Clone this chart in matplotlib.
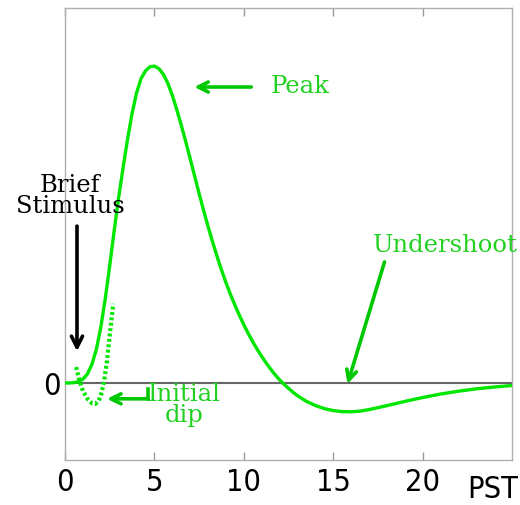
import matplotlib
matplotlib.use("Agg")
import matplotlib.pyplot as plt
from matplotlib import font_manager
from matplotlib.font_manager import FontProperties

# hemodynamic response (peak scaled to 1)
t_hrf = [0, 0.25, 0.5, 0.75, 1.0, 1.25, 1.5, 1.75, 2.0, 2.25, 2.5, 2.75,
         3.0, 3.25, 3.5, 3.75, 4.0, 4.25, 4.5, 4.75, 5.0, 5.25, 5.5, 5.75,
         6.0, 6.25, 6.5, 6.75, 7.0, 7.25, 7.5, 7.75, 8.0, 8.25, 8.5, 8.75,
         9.0, 9.25, 9.5, 9.75, 10.0, 10.25, 10.5, 10.75, 11.0, 11.25, 11.5,
         11.75, 12.0, 12.25, 12.5, 12.75, 13.0, 13.5, 14.0, 14.5, 15.0, 15.5,
         16.0, 16.5, 17.0, 17.5, 18.0, 18.5, 19.0, 19.5, 20.0, 21.0, 22.0,
         23.0, 24.0, 25.0]
hrf = [0, 0, 0.001, 0.004, 0.012, 0.028, 0.058, 0.105, 0.175, 0.265, 0.37,
       0.48, 0.585, 0.68, 0.77, 0.85, 0.915, 0.96, 0.985, 0.998, 1.0, 0.992,
       0.974, 0.946, 0.908, 0.863, 0.814, 0.762, 0.708, 0.653, 0.598, 0.545,
       0.494, 0.446, 0.400, 0.357, 0.317, 0.280, 0.246, 0.214, 0.184, 0.156,
       0.130, 0.106, 0.084, 0.063, 0.044, 0.026, 0.010, -0.004, -0.017,
       -0.029, -0.040, -0.058, -0.071, -0.081, -0.087, -0.0905, -0.091,
       -0.089, -0.084, -0.078, -0.0715, -0.065, -0.0583, -0.052, -0.046,
       -0.035, -0.026, -0.0185, -0.0128, -0.008]

# dotted initial dip
t_dip = [0.62, 0.8, 1.0, 1.25, 1.5, 1.7, 1.9, 2.05, 2.2, 2.35, 2.5, 2.7]
dip = [0.05, 0.01, -0.025, -0.05, -0.064, -0.066, -0.055, -0.03, 0.01, 0.07,
       0.15, 0.25]

xticks = [0, 5, 10, 15, 20]

# narrow sans for the axis numbers, if there is one
tick_fp = None
for f in font_manager.fontManager.ttflist:
    if f.name == "Liberation Sans Narrow" and f.weight in (400, "normal") and f.style == "normal":
        tick_fp = FontProperties(fname=f.fname)
        break
if tick_fp is None:
    for f in font_manager.fontManager.ttflist:
        if f.name == "DejaVu Sans" and f.stretch == "condensed" and f.style == "normal" \
                and f.weight in (400, "normal"):
            tick_fp = FontProperties(fname=f.fname)
            break
if tick_fp is None:
    tick_fp = FontProperties(family="Liberation Sans")
tick_fp.set_size(22)

GREEN = "#00e600"
TEXT_GREEN = "#22d022"
ARROW_GREEN = "#00c800"

fig = plt.figure(figsize=(5.2, 5.06), dpi=100)
ax = fig.add_axes([0.125, 0.089, 0.8596, 0.893])

ax.plot([0, 25], [0, 0], color="#666666", lw=1.5, zorder=1)
ax.plot(t_hrf, hrf, color=GREEN, lw=2.4, zorder=3, solid_capstyle="round",
        solid_joinstyle="round")
ax.plot(t_dip, dip, color=GREEN, lw=3, ls=(0, (0.7, 0.6)), zorder=3)

ax.set_xlim(0, 25)
ax.set_ylim(-0.243, 1.183)
ax.set_xticks(xticks)
ax.set_xticklabels([str(v) for v in xticks], fontproperties=tick_fp)
ax.set_yticks([0])
ax.set_yticklabels(["0"], fontproperties=tick_fp)
ax.tick_params(axis="x", direction="in", length=6, width=1, color="#999999",
               top=True, pad=5)
ax.tick_params(axis="y", length=0, pad=3)
for s in ax.spines.values():
    s.set_color("#b0b0b0")
    s.set_linewidth(1)

fig.text(0.997, 0.032, "PST", fontproperties=tick_fp, ha="right", va="center")

serif = dict(family="DejaVu Serif", fontsize=17.5)

# brief stimulus
ax.text(0.28, 0.593, "Brief\nStimulus", color="black", ha="center", va="center",
        linespacing=0.92, clip_on=False, **serif)
ax.annotate("", xy=(0.67, 0.10), xytext=(0.67, 0.495),
            arrowprops=dict(arrowstyle="->", color="black", lw=2.6,
                            mutation_scale=20, shrinkA=0, shrinkB=0))

# peak
ax.text(13.17, 0.94, "Peak", color=TEXT_GREEN, ha="center", va="center", **serif)
ax.annotate("", xy=(7.23, 0.934), xytext=(10.42, 0.934),
            arrowprops=dict(arrowstyle="->", color=ARROW_GREEN, lw=2.6,
                            mutation_scale=18, shrinkA=0, shrinkB=0))

# undershoot
ax.text(25.3, 0.438, "Undershoot", color=TEXT_GREEN, ha="right", va="center",
        clip_on=False, **serif)
ax.annotate("", xy=(15.8, -0.003), xytext=(17.87, 0.382),
            arrowprops=dict(arrowstyle="->", color=ARROW_GREEN, lw=2.6,
                            mutation_scale=18, shrinkA=0, shrinkB=0))

# initial dip
ax.text(6.69, -0.066, "Initial\ndip", color=TEXT_GREEN, ha="center", va="center",
        linespacing=0.92, **serif)
ax.plot([4.65, 4.65], [-0.05, -0.02], color=ARROW_GREEN, lw=2.6)
ax.annotate("", xy=(2.35, -0.05), xytext=(4.65, -0.05),
            arrowprops=dict(arrowstyle="->", color=ARROW_GREEN, lw=2.6,
                            mutation_scale=18, shrinkA=0, shrinkB=0))

fig.savefig("out.png", dpi=100)
